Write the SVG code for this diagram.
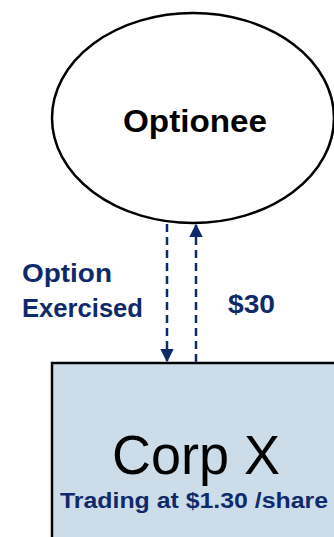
<svg xmlns="http://www.w3.org/2000/svg" width="334" height="537" viewBox="0 0 334 537">
  <style>
    .lbl { font-family: "Liberation Sans", Arial, sans-serif; font-weight: bold; fill: #0f2a6a; }
    .flow { stroke: #0f2a6a; stroke-width: 2.5; stroke-dasharray: 8 5; fill: none; }
  </style>
  <defs>
    <marker id="head" viewBox="0 0 10 10" refX="9" refY="5" markerWidth="5.5" markerHeight="5.5" orient="auto" markerUnits="strokeWidth">
      <path d="M0,0 L10,5 L0,10 z" fill="#0f2a6a"/>
    </marker>
  </defs>

  <!-- Corp X box, running off the bottom-right edge -->
  <g id="corp-x">
    <rect x="52" y="363" width="300" height="200" fill="#ccdde9" stroke="#000" stroke-width="2.5"/>
    <text x="196" y="474" text-anchor="middle" font-family="Liberation Sans, Arial, sans-serif" font-size="56" fill="#000" textLength="168" lengthAdjust="spacingAndGlyphs">Corp X</text>
    <text class="lbl" x="194" y="508" text-anchor="middle" font-size="22" textLength="268" lengthAdjust="spacingAndGlyphs">Trading at $1.30 /share</text>
  </g>

  <!-- Optionee ellipse -->
  <g id="optionee">
    <ellipse cx="193" cy="118" rx="141" ry="105" fill="#fff" stroke="#000" stroke-width="2.5"/>
    <text x="195" y="132" text-anchor="middle" font-family="Liberation Sans, Arial, sans-serif" font-weight="bold" font-size="31" fill="#000" textLength="144" lengthAdjust="spacingAndGlyphs">Optionee</text>
  </g>

  <!-- connectors -->
  <g id="connectors">
    <line class="flow" x1="167" y1="224" x2="167" y2="361" marker-end="url(#head)"/>
    <line class="flow" x1="196" y1="362" x2="196" y2="225" marker-end="url(#head)"/>
  </g>

  <!-- connector labels -->
  <g id="labels">
    <text class="lbl" x="22" y="282" font-size="25" textLength="90" lengthAdjust="spacingAndGlyphs">Option</text>
    <text class="lbl" x="22" y="317" font-size="25" textLength="121" lengthAdjust="spacingAndGlyphs">Exercised</text>
    <text class="lbl" x="228" y="313" font-size="25" textLength="47" lengthAdjust="spacingAndGlyphs">$30</text>
  </g>
</svg>
